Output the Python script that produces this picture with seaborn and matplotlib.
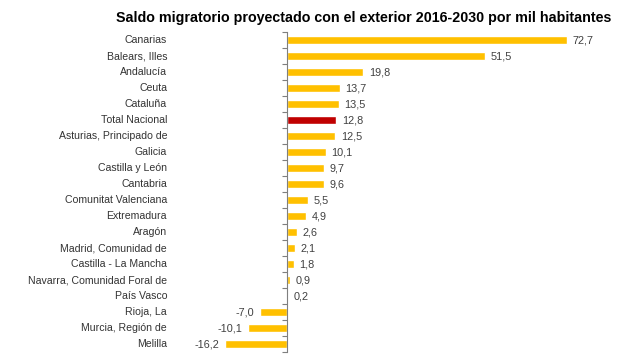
import matplotlib
matplotlib.use("Agg")
import matplotlib.pyplot as plt
import matplotlib.transforms as mtransforms
import seaborn as sns
import pandas as pd
import numpy as np

regions = ["Canarias", "Balears, Illes", "Andalucía", "Ceuta", "Cataluña",
           "Total Nacional", "Asturias, Principado de", "Galicia", "Castilla y León",
           "Cantabria", "Comunitat Valenciana", "Extremadura", "Aragón",
           "Madrid, Comunidad de", "Castilla - La Mancha", "Navarra, Comunidad Foral de",
           "País Vasco", "Rioja, La", "Murcia, Región de", "Melilla"]
values = [72.7, 51.5, 19.8, 13.7, 13.5, 12.8, 12.5, 10.1, 9.7, 9.6, 5.5, 4.9,
          2.6, 2.1, 1.8, 0.9, 0.2, -7.0, -10.1, -16.2]

df = pd.DataFrame({"region": regions, "value": values})
palette = {r: ("#C00000" if r == "Total Nacional" else "#FFC000") for r in regions}

sns.set_theme(style="white")
plt.rcParams["font.family"] = ["Liberation Sans", "DejaVu Sans"]

fig = plt.figure(figsize=(6.4, 3.62), dpi=100)
ax = fig.add_axes([0.289, 0.0276, 0.68, 0.884])

sns.barplot(data=df, y="region", x="value", hue="region", palette=palette,
            legend=False, orient="h", width=0.45, ax=ax, saturation=1)

ax.set_xlim(-26.5, 86.5)
ax.set_ylim(len(regions) - 0.5, -0.5)
ax.set_xlabel("")
ax.set_ylabel("")
for s in ["top", "right", "bottom"]:
    ax.spines[s].set_visible(False)
ax.spines["left"].set_position(("data", 0))
ax.spines["left"].set_color("#7f7f7f")
ax.spines["left"].set_linewidth(0.8)
ax.set_xticks([])
ax.set_yticks(range(len(regions)))
ax.set_yticklabels([])
ax.tick_params(axis="y", which="major", length=0)
ax.set_yticks(np.arange(-0.5, len(regions), 1.0), minor=True)
ax.tick_params(axis="y", which="minor", length=3.5, width=0.8, color="#7f7f7f",
               direction="out", left=True)

trans = mtransforms.blended_transform_factory(ax.transAxes, ax.transData)
for i, r in enumerate(regions):
    ax.text(-0.041, i, r, transform=trans, ha="right", va="center",
            fontsize=7.6, color="#333333")

for cont in ax.containers:
    labels = [f"{b.get_width() if b.get_x() >= 0 else b.get_x():.1f}".replace(".", ",")
              for b in cont]
    ax.bar_label(cont, labels=labels, padding=4, fontsize=7.8, color="#404040")

fig.text(0.568, 0.95, "Saldo migratorio proyectado con el exterior 2016-2030 por mil habitantes",
         ha="center", va="center", fontsize=10.3, fontweight="bold", color="#000000")

fig.savefig("out.png", dpi=100)
